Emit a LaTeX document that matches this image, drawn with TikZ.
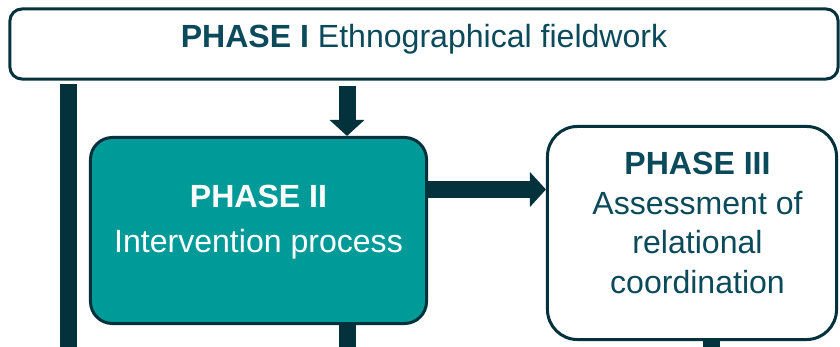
\documentclass[tikz,border=0pt]{standalone}
\usepackage{fontspec}
\setmainfont{Liberation Sans}
\usepackage{xcolor}
\usetikzlibrary{arrows.meta,positioning}
\definecolor{phasedark}{HTML}{03323D}
\definecolor{phasetext}{HTML}{0B4A5A}
\definecolor{phaseteal}{HTML}{009A98}

\begin{document}
\begin{tikzpicture}[
  x=0.025cm, y=-0.025cm,
  box/.style={rectangle, draw=phasedark, line width=0.075cm, inner sep=0pt},
  txt/.style={align=center, font=\fontsize{22.8}{28.1}\selectfont, inner sep=0pt},
  bar/.style={draw=phasedark, line width=0.425cm},
  arr/.style={bar, -{Triangle[width=0.85cm,length=0.4cm]}}
]
\useasboundingbox (0,0) rectangle (840,347);

% phase boxes
\node[box, fill=white, rounded corners=0.3cm, minimum width=20.7cm, minimum height=1.75cm,
      txt, text=phasetext, text height=0.6cm, text depth=0.4cm] (p1) at (424,44)
      {\textbf{PHASE I} Ethnographical fieldwork};
\node[box, fill=phaseteal, rounded corners=0.55cm, minimum width=8.4cm, minimum height=4.65cm] (p2) at (258.5,230.5) {};
\node[box, fill=white, rounded corners=0.75cm, minimum width=7.225cm, minimum height=5.325cm] (p3) at (692,233) {};

\node[txt, text=white] (p2txt) at (258.5,222) {\textbf{PHASE II}\\[0.15cm]Intervention process};
\node[txt, text=phasetext] (p3txt) at (697.5,222.8)
      {\textbf{PHASE III}\\Assessment of\\relational\\coordination};

% connectors
\coordinate (a1) at (347,86);
\coordinate (a2) at (427,189.5);
\coordinate (b1) at (68.5,84);
\coordinate (b3) at (711,338);

\draw[arr] (a1) -- (a1 |- p2.north);
\draw[arr] (a2) -- (a2 -| p3.west);
\draw[bar] (b1) -- (b1 |- 0,347);
\draw[bar] (a1 |- p2.south) -- (a1 |- 0,347);
\draw[bar] (b3) -- (b3 |- 0,347);
\end{tikzpicture}
\end{document}
